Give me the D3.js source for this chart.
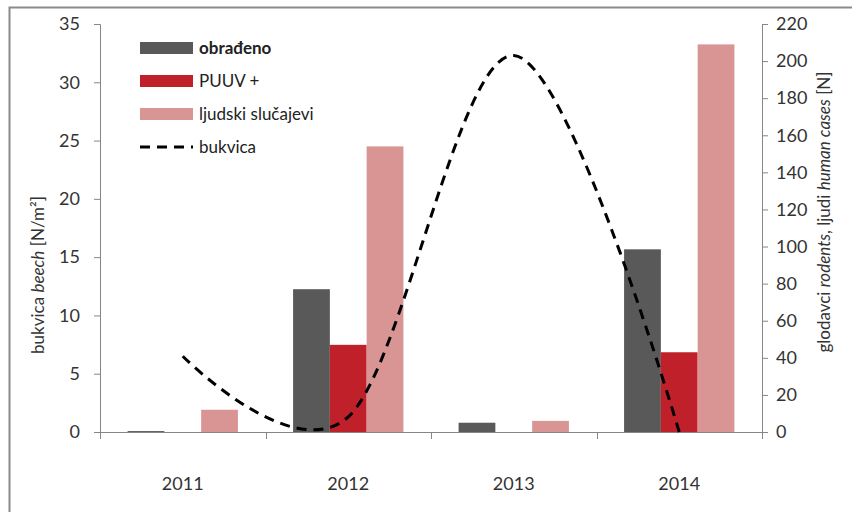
<!DOCTYPE html>
<html>
<head>
<meta charset="utf-8">
<script src="https://cdn.jsdelivr.net/npm/d3@7"></script>
<style>
  body { margin: 0; background: #fff; }
  svg { display: block; font-family: Lato, "Open Sans", sans-serif; }
</style>
</head>
<body>
<svg id="chart" width="852" height="512"></svg>
<script>
const years = ["2011", "2012", "2013", "2014"];
const obradeno = [0.5, 77, 5, 98.5];
const puuv = [0, 47, 0, 43];
const ljudski = [12, 154, 6, 209];
const bukvica = [6.5, 1.3, 32.3, 0];
const leftTicks = [0, 5, 10, 15, 20, 25, 30, 35];
const rightTicks = [0, 20, 40, 60, 80, 100, 120, 140, 160, 180, 200, 220];
const seriesNames = ["obrađeno", "PUUV +", "ljudski slučajevi", "bukvica"];
const colors = ["#595959", "#c0202a", "#d99594"];

const svg = d3.select("#chart");
const L = 100, R = 762, T = 24, B = 432;
const axisColor = "#8c8480";

// frame
svg.append("path").attr("d", "M9.5,512 V7.5 H852").attr("fill", "none")
  .attr("stroke", "#8a8a8a").attr("stroke-width", 2);

const x0 = d3.scaleBand().domain(years).range([L, R]).paddingInner(0).paddingOuter(0);
const bw = x0.bandwidth() / 4.5;
const x1 = d3.scaleBand().domain([0, 1, 2]).range([0, bw * 3]);
const yL = d3.scaleLinear().domain([0, 35]).range([B, T]);
const yR = d3.scaleLinear().domain([0, 220]).range([B, T]);

const barData = [obradeno, puuv, ljudski];
const g = svg.append("g");
years.forEach((yr, i) => {
  barData.forEach((arr, s) => {
    const v = arr[i];
    if (v <= 0) return;
    g.append("rect")
      .attr("x", x0(yr) + bw * 0.75 + x1(s))
      .attr("y", yR(v))
      .attr("width", x1.bandwidth())
      .attr("height", B - yR(v))
      .attr("fill", colors[s]);
  });
});

// axes
const styleAxis = sel => {
  sel.selectAll("path, line").attr("stroke", axisColor);
  sel.selectAll("text").attr("fill", "#333").style("font-size", "18px").style("font-family", "Lato, 'Open Sans', sans-serif");
};
svg.append("g").attr("transform", `translate(${L},0)`)
  .call(d3.axisLeft(yL).tickValues(leftTicks).tickSize(6).tickSizeOuter(6).tickPadding(14))
  .call(styleAxis);
svg.append("g").attr("transform", `translate(${R},0)`)
  .call(d3.axisRight(yR).tickValues(rightTicks).tickSize(6).tickSizeOuter(6).tickPadding(8))
  .call(styleAxis);

// x axis
svg.append("line").attr("x1", L).attr("x2", R).attr("y1", B + 0.5).attr("y2", B + 0.5).attr("stroke", axisColor);
d3.range(0, 5).forEach(k => {
  const xx = Math.round(L + k * x0.bandwidth()) + 0.5;
  svg.append("line").attr("x1", xx).attr("x2", xx).attr("y1", B).attr("y2", B + 7).attr("stroke", axisColor);
});
svg.selectAll(".xl").data(years).join("text")
  .attr("x", d => x0(d) + x0.bandwidth() / 2)
  .attr("y", 490)
  .attr("text-anchor", "middle")
  .attr("fill", "#333")
  .style("font-size", "18px")
  .text(d => d);

// line
const line = d3.line()
  .x((d, i) => x0(years[i]) + x0.bandwidth() / 2)
  .y(d => yL(d))
  .curve(d3.curveCardinal.tension(0));
svg.append("path").datum(bukvica).attr("d", line)
  .attr("fill", "none").attr("stroke", "#000").attr("stroke-width", 3)
  .attr("stroke-dasharray", "10,7");

// axis titles
const lt = svg.append("text").attr("transform", "translate(44,275) rotate(-90)")
  .attr("text-anchor", "middle").attr("fill", "#333").style("font-size", "17px");
lt.append("tspan").text("bukvica ");
lt.append("tspan").attr("font-style", "italic").text("beech");
lt.append("tspan").text(" [N/m²]");

const rt = svg.append("text").attr("transform", "translate(830,212) rotate(-90)")
  .attr("text-anchor", "middle").attr("fill", "#333").style("font-size", "17px");
rt.append("tspan").text("glodavci ");
rt.append("tspan").attr("font-style", "italic").text("rodents");
rt.append("tspan").text(", ljudi ");
rt.append("tspan").attr("font-style", "italic").text("human cases");
rt.append("tspan").text(" [N]");

// legend
const legY = [48, 81, 114, 147];
seriesNames.forEach((name, i) => {
  if (i < 3) {
    svg.append("rect").attr("x", 140).attr("y", legY[i] - 6).attr("width", 53).attr("height", 12).attr("fill", colors[i]);
  } else {
    svg.append("line").attr("x1", 140).attr("x2", 193).attr("y1", legY[i]).attr("y2", legY[i])
      .attr("stroke", "#000").attr("stroke-width", 3).attr("stroke-dasharray", "10,7");
  }
  svg.append("text").attr("x", 199).attr("y", legY[i]).attr("dy", "0.35em")
    .attr("fill", "#222").style("font-size", "17px")
    .attr("font-weight", i === 0 ? "bold" : "normal")
    .text(name);
});
</script>
</body>
</html>
